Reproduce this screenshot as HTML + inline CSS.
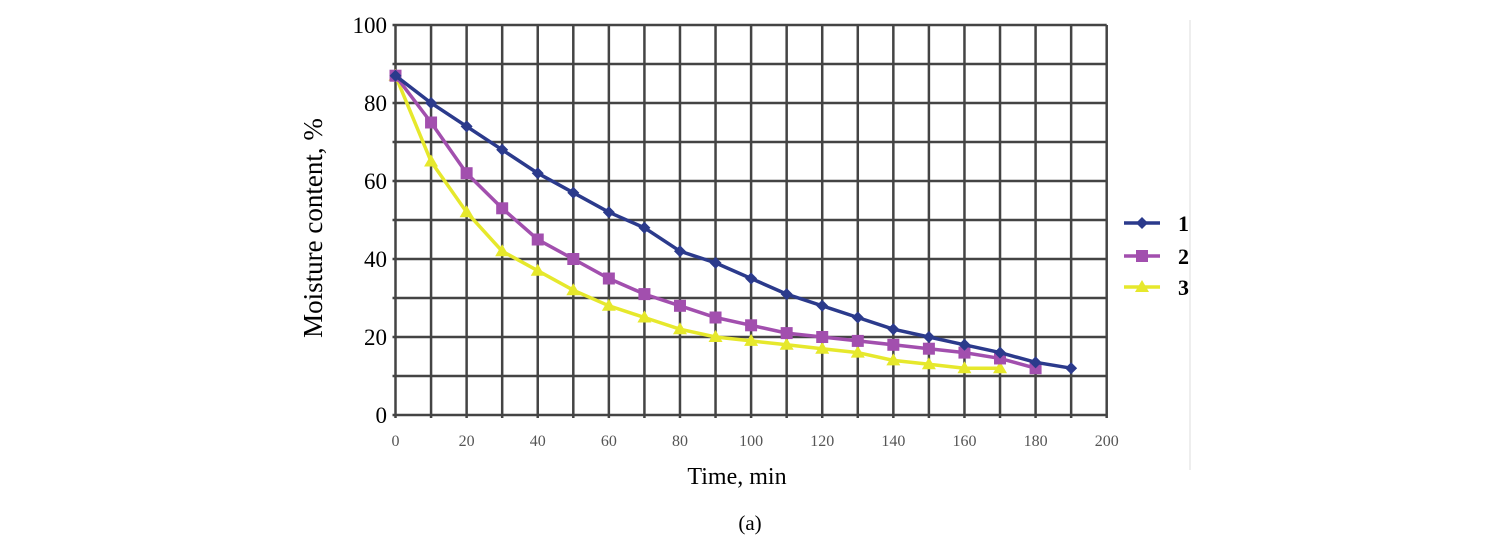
<!DOCTYPE html>
<html><head><meta charset="utf-8"><style>
html,body{margin:0;padding:0;background:#fff;}
svg{display:block;font-family:"Liberation Serif",serif;}
</style></head><body>
<svg id="chart" width="1500" height="551" viewBox="0 0 1500 551">
<line x1="1190" y1="20" x2="1190" y2="470" stroke="#eee" stroke-width="2"/>
<g id="grid"></g>
<g id="axes"></g>
<g id="series"></g>
<text x="322" y="228" font-size="27" text-anchor="middle" transform="rotate(-90 322 228)">Moisture content, %</text>
<text x="737" y="484" font-size="24" text-anchor="middle">Time, min</text>
<text x="750" y="530" font-size="21" text-anchor="middle">(a)</text>
<g id="legend"></g>
</svg>
<script>
const xTicks=[0,20,40,60,80,100,120,140,160,180,200];
const yTicks=[0,20,40,60,80,100];
const time1=[0,10,20,30,40,50,60,70,80,90,100,110,120,130,140,150,160,170,180,190];
const series1=[87,80,74,68,62,57,52,48,42,39,35,31,28,25,22,20,18,16,13.5,12];
const time2=[0,10,20,30,40,50,60,70,80,90,100,110,120,130,140,150,160,170,180];
const series2=[87,75,62,53,45,40,35,31,28,25,23,21,20,19,18,17,16,14.5,12];
const time3=[0,10,20,30,40,50,60,70,80,90,100,110,120,130,140,150,160,170];
const series3=[87,65,52,42,37,32,28,25,22,20,19,18,17,16,14,13,12,12];
const names=["1","2","3"];
const NS="http://www.w3.org/2000/svg";
const X=v=>395.5+v*3.556, Y=v=>415-v*3.9;
function mk(t,a,p){const e=document.createElementNS(NS,t);for(const k in a)e.setAttribute(k,a[k]);p.appendChild(e);return e;}
const grid=document.getElementById('grid'),axes=document.getElementById('axes'),ser=document.getElementById('series'),leg=document.getElementById('legend');
for(let v=0;v<=200;v+=10){const l=mk('line',{x1:X(v),x2:X(v),y1:Y(100),y2:Y(0)+3,stroke:'#444','stroke-width':2.5},grid);

}
for(let v=0;v<=100;v+=10){const l=mk('line',{x1:X(0)-3,x2:X(200),y1:Y(v),y2:Y(v),stroke:'#444','stroke-width':2.5},grid);

}
xTicks.forEach(v=>{const t=mk('text',{x:X(v),y:446,'font-size':16,'text-anchor':'middle',fill:'#555'},axes);t.textContent=v;

});
yTicks.forEach(v=>{const t=mk('text',{x:387,y:Y(v)+8,'font-size':23,'text-anchor':'end'},axes);t.textContent=v;

});
const cfg=[{t:time1,d:series1,c:'#2b3a8c',m:'d'},{t:time2,d:series2,c:'#a24fae',m:'s'},{t:time3,d:series3,c:'#e6e82c',m:'t'}];
function marker(m,x,y,c,p){
 if(m==='d')return mk('polygon',{points:`${x},${y-6} ${x+6},${y} ${x},${y+6} ${x-6},${y}`,fill:c},p);
 if(m==='s')return mk('rect',{x:x-6,y:y-6,width:12,height:12,fill:c},p);
 return mk('polygon',{points:`${x},${y-7} ${x+7},${y+5} ${x-7},${y+5}`,fill:c},p);}
for(let i=cfg.length-1;i>=0;i--){const s=cfg[i];const g=mk('g',{},ser);


 const pts=s.t.map((t,j)=>X(t)+','+Y(s.d[j])).join(' ');
 mk('polyline',{points:pts,fill:'none',stroke:s.c,'stroke-width':3.5},g);
 s.t.forEach((t,j)=>{const mm=marker(s.m,X(t),Y(s.d[j]),s.c,g);
 
 });}
const ly=[223,256,287];
cfg.forEach((s,i)=>{const g=mk('g',{},leg);


 mk('line',{x1:1124,x2:1160,y1:ly[i],y2:ly[i],stroke:s.c,'stroke-width':3.5},g);
 marker(s.m,1142,ly[i],s.c,g);
 const t=mk('text',{x:1178,y:ly[i]+8,'font-size':22,'font-weight':'bold'},g);t.textContent=names[i];});
</script>
</body></html>
